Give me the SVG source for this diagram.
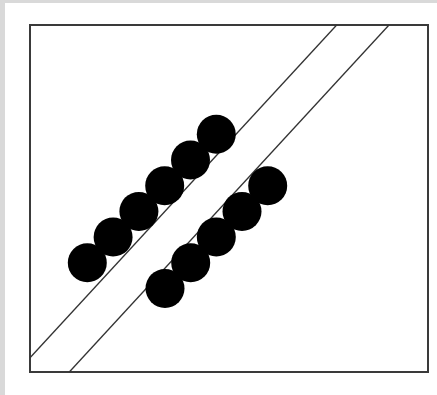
<svg xmlns="http://www.w3.org/2000/svg" width="437" height="395" viewBox="0 0 437 395">
<style>
.frame{fill:none;stroke:#3a3a3a;stroke-width:2}
.diag{stroke:#333;stroke-width:1.3;fill:none}
.dot{fill:#000}
</style>
<rect x="0" y="0" width="437" height="395" fill="#ffffff"/>
<rect x="0" y="0" width="437" height="3" fill="#d9d9d9"/>
<rect x="0" y="0" width="5" height="395" fill="#d9d9d9"/>
<rect class="frame" x="30" y="25" width="398" height="347"/>
<g id="connectors">
<line class="diag" x1="336.7" y1="25" x2="30" y2="357.7"/>
<line class="diag" x1="389" y1="25" x2="69.3" y2="372"/>
</g>
<g id="row1">
<circle id="a1" class="dot" cx="87.3" cy="262.8" r="19.5"/>
<circle id="a2" class="dot" cx="113.1" cy="237.1" r="19.5"/>
<circle id="a3" class="dot" cx="138.9" cy="211.4" r="19.5"/>
<circle id="a4" class="dot" cx="164.7" cy="185.7" r="19.5"/>
<circle id="a5" class="dot" cx="190.5" cy="160" r="19.5"/>
<circle id="a6" class="dot" cx="216.3" cy="134.3" r="19.5"/>
</g>
<g id="row2">
<circle id="b1" class="dot" cx="165" cy="288.4" r="19.5"/>
<circle id="b2" class="dot" cx="190.7" cy="262.7" r="19.5"/>
<circle id="b3" class="dot" cx="216.3" cy="237" r="19.5"/>
<circle id="b4" class="dot" cx="242" cy="211.4" r="19.5"/>
<circle id="b5" class="dot" cx="267.7" cy="185.7" r="19.5"/>
</g>
</svg>
